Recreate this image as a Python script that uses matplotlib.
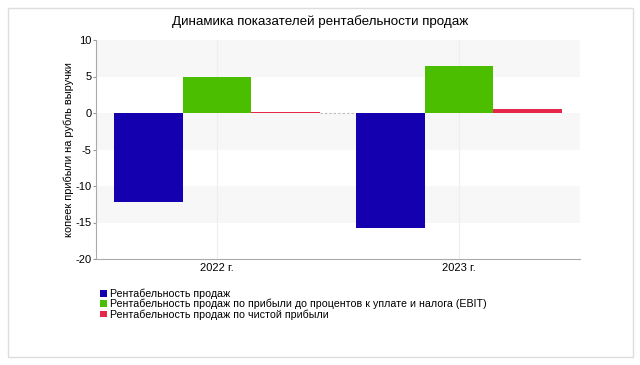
import numpy as np
import matplotlib.pyplot as plt
from matplotlib.patches import Rectangle

# data
years = ["2022 г.", "2023 г."]
sales = [-12.2, -15.8]   # Рентабельность продаж
ebit = [5.0, 6.5]        # по прибыли до процентов (EBIT)
net = [0.1, 0.6]         # по чистой прибыли
labels = ["Рентабельность продаж",
          "Рентабельность продаж по прибыли до процентов к уплате и налога (EBIT)",
          "Рентабельность продаж по чистой прибыли"]
colors = ["#1500b0", "#4cbe00", "#e8264a"]

plt.rcParams['font.family'] = ['Liberation Sans', 'DejaVu Sans']
plt.rcParams['axes.unicode_minus'] = False

fig = plt.figure(figsize=(6.4, 3.65), dpi=100)
fig.patches.append(Rectangle((8/640, 8/365), 625/640, 349/365, transform=fig.transFigure,
                             fill=False, edgecolor="#dddddd", lw=1))
ax = fig.add_axes([96/640, 1-259/365, 484/640, 219/365])

x = np.arange(len(years))
w = 0.285
# alternating bands
for lo in [5, -5, -15]:
    ax.axhspan(lo, lo + 5, color="#f7f7f7", zorder=0, lw=0)
for xi in x:
    ax.axvline(xi, color="#eeeeee", lw=0.8, zorder=0.5)

series = [sales, ebit, net]
for k, (vals, c, lab) in enumerate(zip(series, colors, labels)):
    ax.bar(x + (k - 1) * w, vals, w, color=c, label=lab, zorder=2)

# dotted connector between groups
ax.plot([x[0] + 1.5 * w, x[1] - 1.5 * w], [0, 0], ls=(0, (2, 2)), color="#bbbbbb", lw=0.8, zorder=1)

ax.set_xlim(-0.5, 1.5)
ax.set_ylim(-20, 10)
ax.set_yticks([10, 5, 0, -5, -10, -15, -20])
ax.set_xticks(x)
ax.set_xticklabels(years)
ax.tick_params(axis='both', labelsize=8, length=2, color="#999999", pad=1)
ax.tick_params(axis='x', length=0, pad=3)
for s in ['top', 'right']:
    ax.spines[s].set_visible(False)
for s in ['left', 'bottom']:
    ax.spines[s].set_color("#aaaaaa")
ax.set_ylabel("копеек прибыли на рубль выручки", fontsize=7.9, labelpad=1)

fig.text(0.5, 1 - 21.5/365, "Динамика показателей рентабельности продаж", ha='center', va='center', fontsize=9.6)

fig.legend(loc='upper left', bbox_to_anchor=(100/640, 1 - 288.5/365), fontsize=7.7, frameon=False,
           handlelength=0.7, handleheight=0.6, handletextpad=0.2, labelspacing=0.0,
           borderpad=0, borderaxespad=0)

fig.savefig("out.png", dpi=100)
